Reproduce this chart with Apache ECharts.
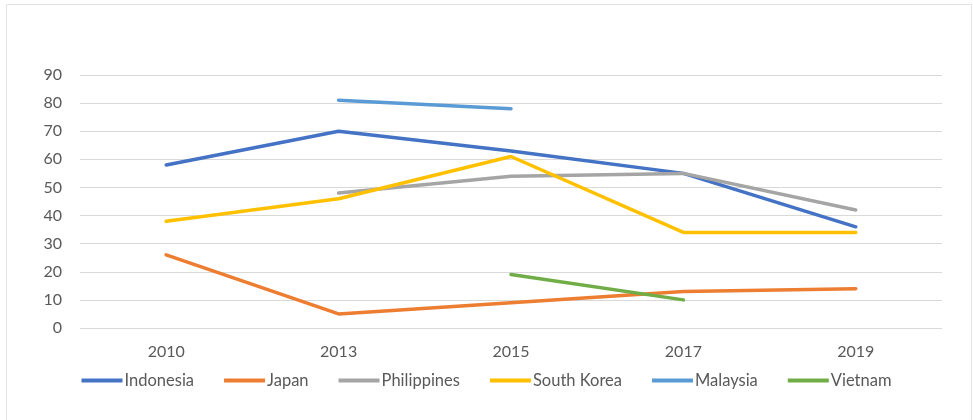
<!DOCTYPE html>
<html><head><meta charset="utf-8">
<script src="https://cdn.jsdelivr.net/npm/echarts@6/dist/echarts.min.js"></script>
<style>html,body{margin:0;padding:0;background:#fff}#c{width:973px;height:420px}</style>
</head><body><div id="c"></div>
<script>
const categories = ['2010', '2013', '2015', '2017', '2019'];
const indonesia = [58, 70, 63, 55, 36];
const japan = [26, 5, 9, 13, 14];
const philippines = [null, 48, 54, 55, 42];
const southKorea = [38, 46, 61, 34, 34];
const malaysia = [null, 81, 78, null, null];
const vietnam = [null, null, 19, 10, null];
const yTicks = [0, 10, 20, 30, 40, 50, 60, 70, 80, 90];

const seriesDefs = [
  ['Indonesia', indonesia, '#4472C4'],
  ['Japan', japan, '#ED7D31'],
  ['Philippines', philippines, '#A5A5A5'],
  ['South Korea', southKorea, '#FFC000'],
  ['Malaysia', malaysia, '#5B9BD5'],
  ['Vietnam', vietnam, '#70AD47']
];
const font = 'Lato, "Open Sans", sans-serif';
const chart = echarts.init(document.getElementById('c'), null, {renderer: 'canvas'});
chart.setOption({
  animation: false,
  backgroundColor: '#fff',
  graphic: [{type: 'rect', shape: {x: 6.5, y: 4.5, width: 965, height: 440}, style: {fill: 'none', stroke: '#e3e3e3', lineWidth: 1}}],
  grid: {left: 80, right: 31, top: 75, bottom: 92},
  xAxis: {
    type: 'category', data: categories, boundaryGap: true,
    axisLine: {show: false}, axisTick: {show: false},
    axisLabel: {color: '#595959', fontSize: 16, fontFamily: font, margin: 16}
  },
  yAxis: {
    type: 'value', min: yTicks[0], max: yTicks[yTicks.length - 1], interval: 10,
    axisLine: {show: false}, axisTick: {show: false},
    axisLabel: {color: '#595959', fontSize: 16, fontFamily: font, margin: 18},
    splitLine: {lineStyle: {color: '#d9d9d9', width: 1}}
  },
  legend: {
    bottom: 26, left: 'center', icon: 'rect', itemWidth: 41, itemHeight: 4, itemGap: 30,
    textStyle: {color: '#595959', fontSize: 16.5, fontFamily: font, padding: [0, 0, 0, -3]},
    data: seriesDefs.map(d => d[0])
  },
  series: seriesDefs.map(([name, data, color]) => ({
    name, type: 'line', data, color, showSymbol: false, symbol: 'none',
    lineStyle: {width: 3.5, color, cap: 'round', join: 'round'},
    connectNulls: false
  }))
});
</script></body></html>
